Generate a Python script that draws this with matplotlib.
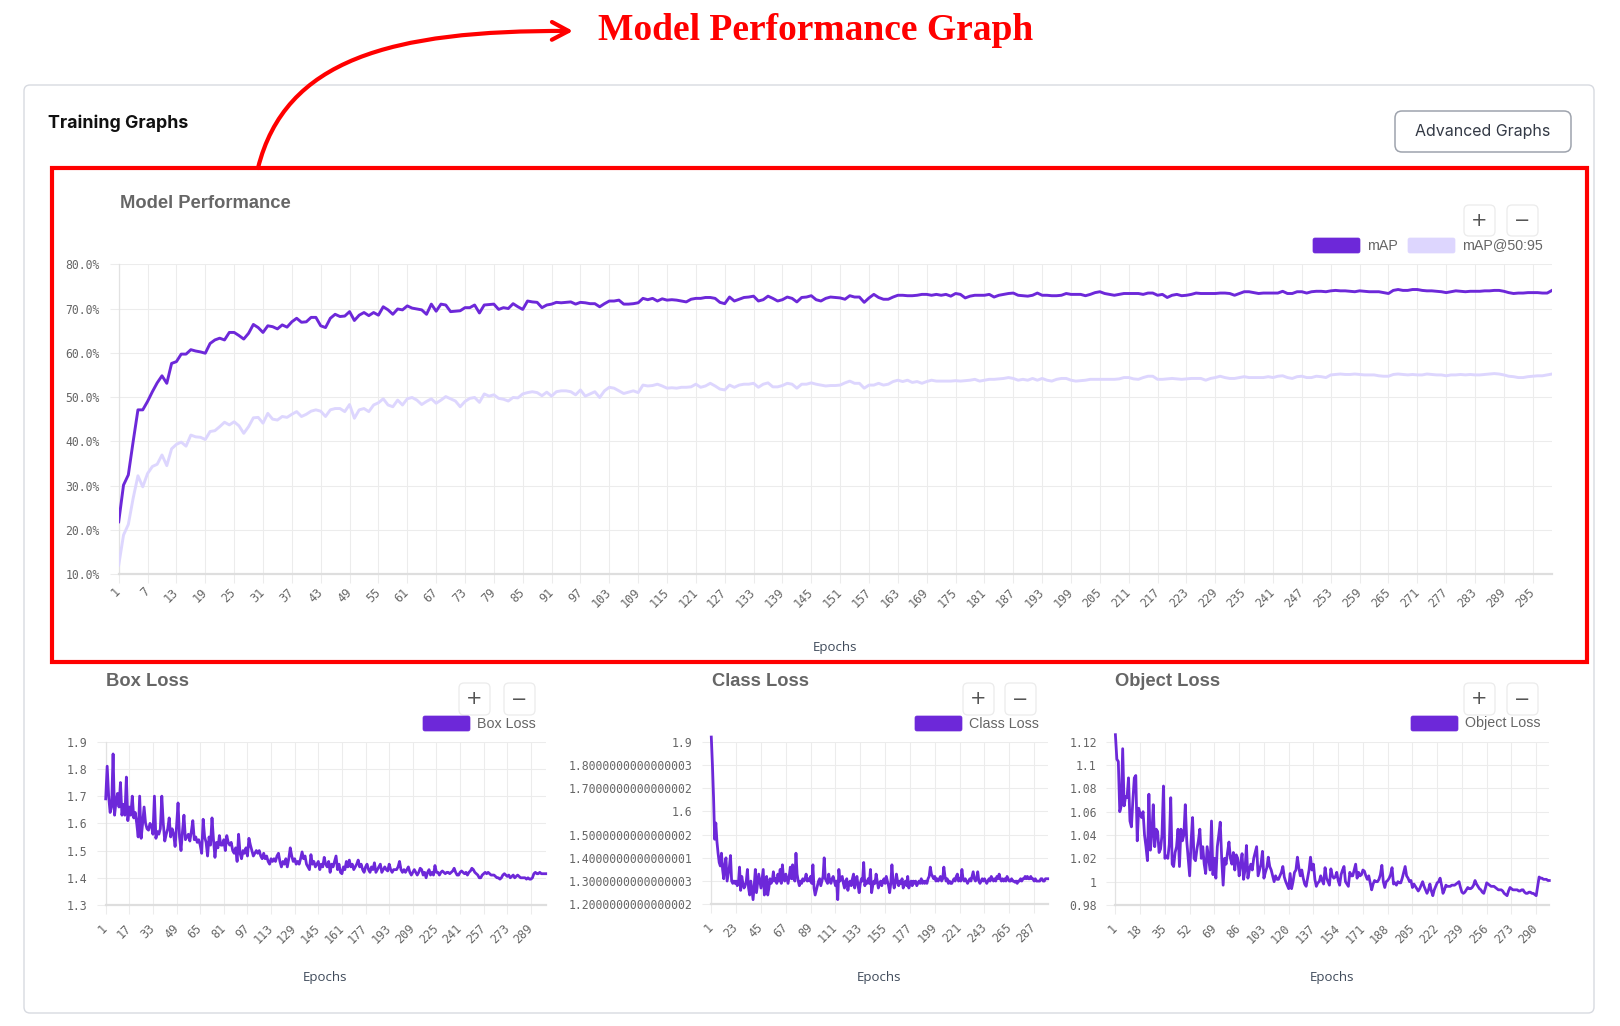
import matplotlib
matplotlib.use("Agg")
import matplotlib.pyplot as plt
from matplotlib.patches import FancyBboxPatch, FancyArrowPatch
from matplotlib.path import Path

# ------------------------------------------------------------------ data
epochs = list(range(1, 300))

map_50 = [
    21.8, 30.1, 32.4, 39.9, 47.1, 47.1, 49.0, 51.2, 53.2, 54.8,
    53.1, 57.6, 58.0, 59.7, 59.7, 60.7, 60.4, 60.2, 59.9, 62.1,
    62.9, 63.3, 62.9, 64.6, 64.6, 63.9, 63.1, 64.4, 66.4, 65.7,
    64.6, 66.1, 65.9, 65.4, 66.3, 65.8, 67.0, 67.8, 66.9, 67.0,
    68.0, 68.0, 66.1, 65.7, 67.8, 68.7, 68.2, 68.3, 69.3, 67.3,
    68.5, 69.1, 68.4, 69.1, 68.5, 70.4, 69.7, 68.7, 69.9, 69.7,
    70.6, 70.1, 69.9, 69.7, 68.7, 71.0, 69.4, 71.0, 70.8, 69.3,
    69.4, 69.5, 70.2, 70.2, 70.8, 69.0, 70.8, 70.9, 71.0, 69.8,
    70.2, 70.0, 71.1, 70.4, 69.8, 71.7, 71.5, 71.4, 70.2, 70.8,
    71.0, 71.4, 71.3, 71.4, 71.5, 71.0, 71.4, 71.3, 71.1, 71.1,
    70.4, 71.1, 71.7, 71.7, 71.9, 71.0, 71.0, 71.1, 71.3, 72.3,
    72.0, 72.3, 71.7, 72.2, 71.9, 72.0, 71.9, 71.7, 71.5, 72.1,
    72.3, 72.3, 72.5, 72.5, 72.3, 71.4, 71.1, 72.6, 71.7, 72.1,
    72.5, 72.6, 72.8, 71.7, 72.0, 72.8, 72.3, 71.7, 72.0, 72.6,
    72.3, 71.5, 72.5, 72.6, 72.9, 72.0, 71.7, 72.3, 72.6, 72.5,
    72.4, 72.1, 72.9, 72.6, 72.6, 71.4, 72.4, 73.2, 72.5, 72.1,
    72.1, 72.6, 73.0, 73.0, 72.9, 72.9, 73.0, 73.2, 73.2, 73.0,
    73.2, 73.0, 73.2, 72.8, 73.4, 73.2, 72.4, 72.8, 73.0, 73.0,
    73.0, 73.2, 72.6, 73.0, 73.2, 73.4, 73.5, 73.0, 72.9, 72.8,
    73.0, 73.5, 73.0, 73.0, 72.9, 72.9, 73.0, 73.4, 73.2, 73.2,
    73.2, 72.9, 73.2, 73.6, 73.8, 73.4, 73.2, 73.0, 73.2, 73.4,
    73.4, 73.4, 73.4, 73.2, 73.5, 73.5, 73.0, 73.2, 72.5, 73.0,
    73.2, 72.9, 73.0, 73.2, 73.5, 73.4, 73.4, 73.4, 73.4, 73.5,
    73.5, 73.4, 73.0, 73.4, 73.8, 73.8, 73.6, 73.4, 73.5, 73.5,
    73.5, 73.5, 73.9, 73.4, 73.4, 73.8, 73.8, 73.5, 73.8, 73.9,
    73.9, 73.8, 74.0, 74.1, 74.0, 74.0, 73.9, 73.8, 74.0, 73.9,
    73.8, 73.8, 73.8, 73.6, 73.4, 74.1, 74.3, 74.1, 74.1, 74.3,
    74.3, 74.1, 74.0, 74.0, 73.9, 73.8, 73.6, 73.8, 74.0, 73.9,
    73.8, 73.9, 73.9, 73.9, 74.0, 74.0, 74.1, 74.1, 73.9, 73.6,
    73.4, 73.5, 73.5, 73.6, 73.6, 73.6, 73.5, 73.5, 74.1,
]

map_50_95 = [
    12.0, 18.8, 21.2, 27.1, 32.2, 29.7, 32.7, 34.3, 34.8, 36.9,
    34.5, 38.3, 39.3, 39.8, 38.9, 41.4, 41.0, 40.9, 40.4, 42.2,
    42.4, 43.3, 44.3, 43.7, 44.4, 43.5, 41.8, 43.3, 45.3, 45.4,
    44.1, 46.3, 45.0, 44.8, 45.6, 45.4, 46.1, 46.7, 45.6, 46.1,
    46.8, 47.1, 46.8, 45.6, 47.1, 47.4, 47.4, 46.7, 48.3, 45.2,
    47.1, 47.4, 46.7, 48.2, 48.7, 49.6, 48.2, 47.8, 49.3, 48.2,
    49.6, 49.9, 49.3, 48.3, 49.0, 49.6, 48.6, 49.3, 50.1, 49.6,
    49.1, 47.8, 49.0, 49.7, 49.9, 48.8, 50.7, 50.2, 50.5, 49.7,
    49.5, 49.1, 49.9, 49.8, 50.7, 51.0, 51.2, 51.0, 50.3, 51.1,
    50.2, 51.2, 51.4, 51.4, 51.2, 50.5, 51.6, 50.2, 50.7, 51.2,
    49.9, 51.4, 52.2, 52.0, 51.4, 50.8, 51.1, 51.4, 51.0, 52.7,
    52.5, 52.6, 52.9, 52.5, 52.0, 52.1, 52.0, 52.2, 52.2, 52.3,
    52.9, 52.2, 52.5, 53.1, 52.5, 51.8, 51.6, 52.7, 52.2, 52.7,
    52.9, 52.9, 53.1, 52.2, 52.9, 53.2, 52.3, 52.3, 52.6, 53.1,
    52.9, 52.0, 52.9, 52.9, 53.2, 52.9, 52.7, 52.5, 52.6, 52.6,
    52.7, 53.2, 53.6, 53.1, 53.1, 52.0, 52.7, 52.7, 53.1, 52.7,
    52.9, 53.5, 53.8, 53.5, 53.8, 53.3, 53.5, 53.1, 53.5, 53.8,
    53.6, 53.6, 53.6, 53.6, 53.7, 53.6, 53.7, 53.8, 54.0, 53.6,
    53.8, 54.0, 54.0, 54.1, 54.2, 54.4, 54.2, 53.8, 54.0, 53.8,
    54.2, 53.8, 54.2, 53.8, 53.6, 54.0, 54.2, 54.2, 53.8, 53.6,
    53.7, 53.8, 54.0, 54.0, 54.0, 54.0, 54.0, 54.0, 54.1, 54.4,
    54.4, 54.1, 54.0, 54.4, 54.7, 54.7, 54.0, 54.0, 54.1, 54.2,
    54.1, 54.0, 54.1, 54.2, 54.2, 54.2, 53.8, 54.2, 54.4, 54.7,
    54.4, 54.2, 54.2, 54.4, 54.6, 54.4, 54.4, 54.4, 54.4, 54.6,
    54.4, 54.7, 54.8, 54.4, 54.2, 54.6, 54.7, 54.4, 54.4, 54.7,
    54.6, 54.4, 55.0, 55.1, 55.2, 55.1, 55.1, 55.2, 55.1, 55.0,
    55.0, 55.0, 54.8, 54.7, 54.7, 55.1, 55.2, 55.1, 55.0, 55.1,
    55.0, 55.0, 55.2, 55.1, 55.0, 55.0, 54.8, 55.0, 55.0, 55.1,
    55.0, 55.1, 55.0, 55.0, 55.1, 55.2, 55.3, 55.2, 55.0, 54.7,
    54.6, 54.4, 54.4, 54.6, 54.7, 54.8, 54.8, 55.0, 55.2,
]

box_loss = [
    1.69, 1.81, 1.70, 1.64, 1.66, 1.855, 1.63, 1.68, 1.71, 1.66,
    1.75, 1.63, 1.67, 1.63, 1.77, 1.61, 1.66, 1.63, 1.70, 1.62,
    1.64, 1.60, 1.55, 1.70, 1.545, 1.60, 1.66, 1.60, 1.58, 1.575,
    1.60, 1.59, 1.56, 1.70, 1.545, 1.57, 1.56, 1.58, 1.70, 1.60,
    1.535, 1.56, 1.58, 1.62, 1.55, 1.58, 1.56, 1.515, 1.59, 1.675,
    1.55, 1.50, 1.57, 1.63, 1.54, 1.55, 1.56, 1.535, 1.57, 1.61,
    1.54, 1.55, 1.53, 1.54, 1.52, 1.49, 1.615, 1.55, 1.53, 1.48,
    1.55, 1.52, 1.62, 1.54, 1.475, 1.53, 1.51, 1.555, 1.52, 1.52,
    1.54, 1.50, 1.555, 1.53, 1.52, 1.53, 1.50, 1.49, 1.51, 1.46,
    1.56, 1.49, 1.47, 1.50, 1.49, 1.51, 1.48, 1.545, 1.52, 1.50,
    1.48, 1.49, 1.50, 1.49, 1.50, 1.48, 1.47, 1.49, 1.47, 1.48,
    1.46, 1.45, 1.47, 1.46, 1.47, 1.46, 1.48, 1.49, 1.46, 1.44,
    1.46, 1.45, 1.47, 1.44, 1.47, 1.51, 1.48, 1.46, 1.47, 1.45,
    1.46, 1.45, 1.47, 1.495, 1.47, 1.48, 1.45, 1.44, 1.43, 1.485,
    1.45, 1.46, 1.44, 1.45, 1.46, 1.43, 1.45, 1.44, 1.475, 1.45,
    1.44, 1.46, 1.42, 1.45, 1.44, 1.46, 1.48, 1.43, 1.45, 1.42,
    1.415, 1.44, 1.43, 1.46, 1.44, 1.465, 1.44, 1.45, 1.43, 1.44,
    1.45, 1.465, 1.44, 1.45, 1.43, 1.42, 1.44, 1.45, 1.43, 1.42,
    1.44, 1.43, 1.455, 1.42, 1.43, 1.44, 1.45, 1.42, 1.43, 1.44,
    1.43, 1.425, 1.45, 1.43, 1.42, 1.43, 1.43, 1.43, 1.44, 1.46,
    1.43, 1.42, 1.43, 1.42, 1.43, 1.44, 1.42, 1.41, 1.42, 1.43,
    1.42, 1.41, 1.42, 1.435, 1.43, 1.41, 1.42, 1.40, 1.42, 1.43,
    1.41, 1.42, 1.41, 1.445, 1.42, 1.42, 1.41, 1.42, 1.425, 1.42,
    1.415, 1.42, 1.42, 1.415, 1.42, 1.425, 1.435, 1.42, 1.41, 1.41,
    1.42, 1.425, 1.42, 1.415, 1.42, 1.41, 1.42, 1.425, 1.435, 1.43,
    1.42, 1.415, 1.41, 1.40, 1.40, 1.41, 1.415, 1.42, 1.415, 1.42,
    1.415, 1.41, 1.41, 1.41, 1.405, 1.40, 1.40, 1.395, 1.40, 1.41,
    1.415, 1.41, 1.405, 1.41, 1.40, 1.405, 1.41, 1.40, 1.405, 1.41,
    1.405, 1.40, 1.40, 1.40, 1.40, 1.395, 1.40, 1.395, 1.395, 1.40,
    1.415, 1.42, 1.415, 1.415, 1.42, 1.415, 1.415, 1.415, 1.415,
]

class_loss = [
    1.92, 1.80, 1.66, 1.48, 1.55, 1.47, 1.42, 1.38, 1.365, 1.42,
    1.35, 1.31, 1.37, 1.40, 1.30, 1.33, 1.36, 1.41, 1.30, 1.29,
    1.30, 1.29, 1.30, 1.28, 1.29, 1.36, 1.26, 1.32, 1.29, 1.27,
    1.28, 1.30, 1.35, 1.27, 1.24, 1.30, 1.26, 1.22, 1.28, 1.35,
    1.25, 1.29, 1.33, 1.30, 1.27, 1.31, 1.35, 1.24, 1.29, 1.32,
    1.24, 1.27, 1.31, 1.29, 1.30, 1.34, 1.30, 1.31, 1.29, 1.33,
    1.30, 1.35, 1.29, 1.37, 1.31, 1.30, 1.33, 1.31, 1.29, 1.32,
    1.36, 1.31, 1.37, 1.31, 1.30, 1.42, 1.33, 1.30, 1.28, 1.30,
    1.29, 1.31, 1.30, 1.31, 1.33, 1.30, 1.31, 1.30, 1.32, 1.29,
    1.37, 1.27, 1.24, 1.26, 1.28, 1.30, 1.31, 1.28, 1.30, 1.32,
    1.40, 1.31, 1.30, 1.29, 1.33, 1.30, 1.29, 1.31, 1.32, 1.30,
    1.28, 1.30, 1.22, 1.35, 1.30, 1.31, 1.32, 1.29, 1.27, 1.30,
    1.31, 1.26, 1.29, 1.30, 1.28, 1.31, 1.33, 1.27, 1.30, 1.32,
    1.28, 1.25, 1.29, 1.31, 1.30, 1.38, 1.28, 1.30, 1.29, 1.31,
    1.29, 1.35, 1.25, 1.28, 1.30, 1.29, 1.33, 1.30, 1.27, 1.29,
    1.30, 1.28, 1.30, 1.31, 1.29, 1.32, 1.30, 1.28, 1.25, 1.29,
    1.37, 1.30, 1.27, 1.29, 1.33, 1.30, 1.28, 1.30, 1.29, 1.31,
    1.27, 1.29, 1.30, 1.28, 1.32, 1.27, 1.29, 1.30, 1.28, 1.30,
    1.29, 1.30, 1.28, 1.29, 1.30, 1.29, 1.31, 1.29, 1.30, 1.29,
    1.30, 1.29, 1.31, 1.32, 1.36, 1.33, 1.32, 1.31, 1.32, 1.30,
    1.31, 1.30, 1.31, 1.32, 1.30, 1.31, 1.36, 1.32, 1.30, 1.31,
    1.29, 1.30, 1.29, 1.29, 1.30, 1.31, 1.30, 1.32, 1.33, 1.30,
    1.31, 1.30, 1.35, 1.31, 1.30, 1.31, 1.30, 1.29, 1.30, 1.31,
    1.30, 1.32, 1.34, 1.31, 1.30, 1.31, 1.34, 1.30, 1.29, 1.30,
    1.31, 1.30, 1.31, 1.30, 1.29, 1.30, 1.31, 1.30, 1.32, 1.31,
    1.30, 1.31, 1.30, 1.32, 1.31, 1.33, 1.31, 1.30, 1.31, 1.30,
    1.31, 1.30, 1.32, 1.31, 1.30, 1.30, 1.31, 1.30, 1.30, 1.295,
    1.30, 1.29, 1.30, 1.30, 1.31, 1.30, 1.31, 1.31, 1.32, 1.31,
    1.32, 1.31, 1.31, 1.32, 1.31, 1.31, 1.30, 1.31, 1.30, 1.30,
    1.30, 1.30, 1.31, 1.31, 1.30, 1.30, 1.31, 1.31, 1.31,
]

object_loss = [
    1.126, 1.105, 1.103, 1.060, 1.065, 1.114, 1.065, 1.073, 1.072, 1.089,
    1.052, 1.047, 1.070, 1.089, 1.091, 1.035, 1.063, 1.058, 1.055, 1.060,
    1.040, 1.030, 1.018, 1.075, 1.027, 1.040, 1.066, 1.030, 1.045, 1.043,
    1.025, 1.028, 1.040, 1.082, 1.020, 1.022, 1.020, 1.032, 1.072, 1.015,
    1.013, 1.025, 1.030, 1.045, 1.013, 1.045, 1.035, 1.040, 1.066, 1.035,
    1.020, 1.005, 1.035, 1.055, 1.020, 1.018, 1.028, 1.035, 1.045, 1.020,
    1.030, 1.015, 1.007, 1.030, 1.020, 1.010, 1.052, 1.006, 1.020, 1.003,
    1.030, 1.040, 1.051, 1.020, 0.997, 1.020, 1.015, 1.025, 1.034, 1.020,
    1.015, 1.025, 1.010, 1.023, 1.020, 1.005, 1.015, 1.024, 1.002, 1.010,
    1.031, 1.003, 1.010, 1.015, 1.010, 1.020, 1.025, 1.030, 1.005, 1.010,
    1.015, 1.026, 1.003, 1.008, 1.012, 1.021, 1.013, 1.010, 1.005, 1.000,
    1.005, 1.002, 1.002, 1.005, 1.008, 1.013, 1.004, 1.000, 0.997, 0.994,
    1.007, 0.994, 1.000, 1.008, 1.010, 1.021, 1.012, 1.005, 1.010, 1.003,
    0.998, 0.996, 1.003, 1.010, 1.021, 1.010, 1.015, 1.002, 0.996, 0.999,
    1.000, 1.005, 1.001, 0.998, 1.012, 1.003, 1.000, 0.997, 1.011, 1.005,
    1.003, 1.004, 1.008, 1.001, 0.997, 1.006, 1.010, 1.013, 1.000, 0.998,
    0.996, 1.008, 1.005, 1.005, 1.010, 1.015, 1.003, 1.008, 1.005, 1.006,
    1.010, 1.009, 1.005, 1.002, 1.005, 0.999, 0.993, 0.998, 1.001, 1.000,
    1.000, 1.002, 1.006, 1.014, 1.000, 0.995, 1.000, 1.001, 1.003, 1.006,
    1.012, 0.998, 0.999, 0.997, 1.000, 0.999, 0.999, 1.003, 1.008, 1.013,
    1.005, 1.003, 1.000, 1.001, 0.995, 0.998, 0.996, 0.994, 0.992, 0.994,
    0.997, 1.000, 0.996, 0.993, 0.990, 0.993, 0.998, 0.992, 0.988, 0.993,
    0.996, 0.999, 1.000, 1.003, 0.997, 0.990, 0.993, 0.997, 0.996, 0.996,
    0.996, 0.997, 0.997, 0.997, 0.998, 0.999, 1.000, 0.995, 0.991, 0.990,
    0.991, 0.993, 0.995, 0.994, 0.994, 0.995, 0.997, 1.001, 0.998, 0.996,
    0.994, 0.993, 0.991, 0.990, 0.994, 0.999, 0.998, 0.997, 0.996, 0.996,
    0.996, 0.995, 0.994, 0.993, 0.993, 0.993, 0.992, 0.990, 0.989, 0.988,
    0.992, 0.995, 0.994, 0.993, 0.993, 0.993, 0.993, 0.992, 0.992, 0.993,
    0.993, 0.991, 0.990, 0.990, 0.991, 0.991, 0.990, 0.990, 0.989, 0.988,
    0.996, 1.004, 1.003, 1.003, 1.002, 1.002, 1.002, 1.001, 1.001,
]

main_xticks = list(range(1, 300, 6))
box_xticks = list(range(1, 300, 16))
class_xticks = list(range(1, 300, 22))
object_xticks = list(range(1, 300, 17))

main_yticks = [10, 20, 30, 40, 50, 60, 70, 80]
main_ylabels = ["10.0%", "20.0%", "30.0%", "40.0%", "50.0%", "60.0%", "70.0%", "80.0%"]
box_yticks = [1.3, 1.4, 1.5, 1.6, 1.7, 1.8, 1.9]
box_ylabels = ["1.3", "1.4", "1.5", "1.6", "1.7", "1.8", "1.9"]
class_yticks = [1.2000000000000002, 1.3000000000000003, 1.4000000000000001,
                1.5000000000000002, 1.6, 1.7000000000000002, 1.8000000000000003, 1.9]
class_ylabels = ["1.2000000000000002", "1.3000000000000003", "1.4000000000000001",
                 "1.5000000000000002", "1.6", "1.7000000000000002",
                 "1.8000000000000003", "1.9"]
object_yticks = [0.98, 1.0, 1.02, 1.04, 1.06, 1.08, 1.1, 1.12]
object_ylabels = ["0.98", "1", "1.02", "1.04", "1.06", "1.08", "1.1", "1.12"]

# ------------------------------------------------------------------ style
W, H = 1620, 1026
PURPLE = "#6d28d9"
LAVENDER = "#ddd6fe"
GRID = "#ececec"
TICKC = "#666666"
MONO = "DejaVu Sans Mono"
SANS = "Liberation Sans"

fig = plt.figure(figsize=(W / 100, H / 100), dpi=100, facecolor="white")
bg = fig.add_axes([0, 0, 1, 1])
bg.set_xlim(0, W)
bg.set_ylim(H, 0)
bg.axis("off")


def rbox(x0, y0, x1, y1, r, fc, ec, lw, z=1):
    p = FancyBboxPatch((x0, y0), x1 - x0, y1 - y0,
                       boxstyle=f"round,pad=0,rounding_size={r}",
                       fc=fc, ec=ec, lw=lw, zorder=z)
    bg.add_patch(p)


# card
rbox(24, 85, 1594, 1013, 6, "white", "#d7dae0", 1.0)
bg.text(48, 123, "Training Graphs", family="Inter", fontweight="bold",
        fontsize=12.8, color="#111111", va="center", ha="left")
rbox(1395, 111, 1571, 152, 7, "white", "#9ea3ad", 1.1)
bg.text(1483, 131.5, "Advanced Graphs", family="Inter", fontsize=11.5,
        color="#343a46", va="center", ha="center")

# red highlight box, headline and arrow
bg.add_patch(plt.Rectangle((51.5, 168), 1535, 494, fill=False,
                           ec="#ff0000", lw=3.0, zorder=3))
bg.text(816, 31, "Model Performance Graph", family="Liberation Serif",
        fontweight="bold", fontsize=27, color="#ff0000", ha="center", va="center")
arrow_path = Path([(258, 168), (285, 60), (390, 30), (573, 31)],
                  [Path.MOVETO, Path.CURVE4, Path.CURVE4, Path.CURVE4])
bg.add_patch(FancyArrowPatch(path=arrow_path,
                             arrowstyle="->,head_length=0.6,head_width=0.32",
                             mutation_scale=20, color="#ff0000", lw=3.0, zorder=3))


def zoom_buttons(xp, xm, y0, y1):
    for x0, sym in ((xp, "+"), (xm, "\u2212")):
        rbox(x0, y0, x0 + 31, y1, 5, "white", "#ebebeb", 0.9, z=2)
        bg.text(x0 + 15.5, (y0 + y1) / 2, sym, fontsize=14, color="#555555",
                ha="center", va="center", family="DejaVu Sans", zorder=3)


def legend_item(x0, y0, color, label):
    rbox(x0, y0, x0 + 47, y0 + 15, 2, color, color, 0.5, z=2)
    bg.text(x0 + 54, y0 + 7.5, label, family=SANS, fontsize=10.3,
            color=TICKC, ha="left", va="center")


def make_axes(l, t, r, b):
    ax = fig.add_axes([l / W, 1 - b / H, (r - l) / W, (b - t) / H])
    ax.set_facecolor("none")
    return ax


def style(ax, xticks, yticks, ylabels, ylim, xpad):
    ax.set_xlim(epochs[0], epochs[-1])
    ax.set_ylim(*ylim)
    ax.set_xticks(xticks)
    ax.set_xticklabels([str(v) for v in xticks], rotation=45, ha="right",
                       va="center", rotation_mode="anchor", family=MONO,
                       fontsize=8.5, color=TICKC)
    ax.set_yticks(yticks)
    ax.set_yticklabels(ylabels, family=MONO, fontsize=8.3, color=TICKC)
    ax.tick_params(axis="both", length=6.5, width=0.75, color=GRID)
    ax.tick_params(axis="x", pad=xpad)
    ax.tick_params(axis="y", pad=7)
    ax.grid(True, color=GRID, lw=0.75)
    ax.set_axisbelow(True)
    ax.spines["top"].set_visible(False)
    ax.spines["right"].set_visible(False)
    ax.spines["bottom"].set_color("#dedede")
    ax.spines["bottom"].set_linewidth(1.6)
    ax.spines["left"].set_color("#e2e2e2")
    ax.spines["left"].set_linewidth(0.9)


# ------------------------------------------------------------ main chart
bg.text(120, 203, "Model Performance", family=SANS, fontweight="bold",
        fontsize=13.2, color="#666666", ha="left", va="center")
zoom_buttons(1464, 1507, 205, 236)
legend_item(1313, 238, PURPLE, "mAP")
legend_item(1408, 238, LAVENDER, "mAP@50:95")

ax = make_axes(118.7, 264.3, 1552, 574)
ax.plot(epochs[:len(map_50_95)], map_50_95, color=LAVENDER, lw=2.1,
        solid_joinstyle="round", zorder=3)
ax.plot(epochs[:len(map_50)], map_50, color=PURPLE, lw=2.1,
        solid_joinstyle="round", zorder=4)
style(ax, main_xticks, main_yticks, main_ylabels, (10, 80), 5)
bg.text(835, 647, "Epochs", family="Open Sans", fontsize=9.5,
        color="#3f4a5a", ha="center", va="center")

# ------------------------------------------------------------ loss charts
loss_specs = [
    # title, series, xticks, yticks, ylabels, ylim, axes box, title x, legend x, buttons, epochs-x
    ("Box Loss", box_loss, box_xticks, box_yticks, box_ylabels, (1.3, 1.9),
     (105.7, 741.7, 545.7, 905), 106, 423, (459, 504), 325),
    ("Class Loss", class_loss, class_xticks, class_yticks, class_ylabels,
     (1.2000000000000002, 1.9), (711.3, 741.7, 1047.7, 904.3), 712, 915,
     (963, 1005), 879),
    ("Object Loss", object_loss, object_xticks, object_yticks, object_ylabels,
     (0.98, 1.12), (1115.4, 741.7, 1549.3, 905), 1115, 1411, (1464, 1507), 1332),
]

for (title, series, xt, yt, yl, ylim, box, tx, lx, btn, ex) in loss_specs:
    bg.text(tx, 682, title, family=SANS, fontweight="bold", fontsize=13.2,
            color="#666666", ha="left", va="center")
    zoom_buttons(btn[0], btn[1], 683, 715)
    legend_item(lx, 716, PURPLE, title)
    a = make_axes(*box)
    a.plot(epochs[:len(series)], series, color=PURPLE, lw=2.0,
           solid_joinstyle="round", clip_on=False, zorder=3)
    style(a, xt, yt, yl, ylim, 9)
    bg.text(ex, 977, "Epochs", family="Open Sans", fontsize=9.5,
            color="#3f4a5a", ha="center", va="center")

fig.savefig("out.png", dpi=100, facecolor="white")
